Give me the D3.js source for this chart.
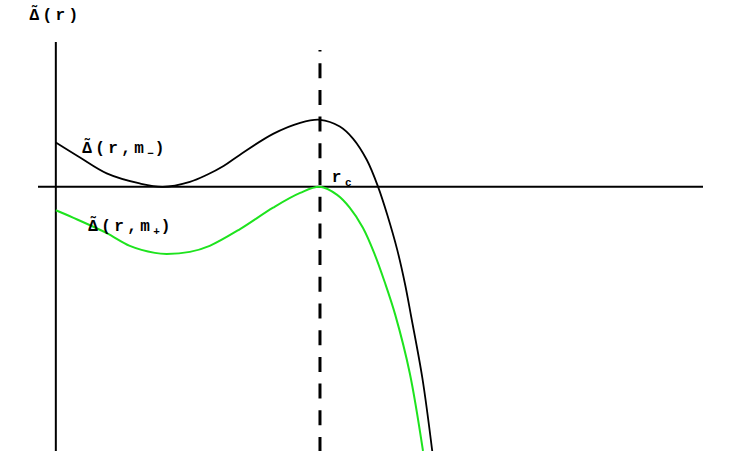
<!DOCTYPE html>
<html>
<head>
<meta charset="utf-8">
<script src="https://cdn.jsdelivr.net/npm/d3@7"></script>
<style>
  html, body { margin: 0; padding: 0; background: #fff; }
  #chart { width: 729px; height: 451px; }
</style>
</head>
<body>
<div id="chart"></div>
<script>
// values (r in units where r_c = 4, Delta in units where max of m- curve = 1)
const rMinus = [0, 0.36, 0.77, 1.27, 1.62, 2.03, 2.29, 2.54, 2.79, 3.29, 3.70, 4.00, 4.30, 4.50, 4.71, 4.88, 5.02, 5.17, 5.29, 5.38, 5.55, 5.70];
const deltaMinus = [0.66, 0.44, 0.20, 0.05, 0, 0.075, 0.18, 0.31, 0.48, 0.79, 0.955, 1.0, 0.90, 0.72, 0.40, 0, -0.42, -0.94, -1.46, -1.93, -2.85, -3.94];

const rPlus = [0, 0.26, 0.77, 1.12, 1.50, 1.68, 2.03, 2.33, 2.79, 3.29, 3.70, 4.00, 4.26, 4.45, 4.65, 4.83, 4.98, 5.14, 5.36, 5.56];
const deltaPlus = [-0.35, -0.46, -0.69, -0.88, -0.985, -1.0, -0.97, -0.88, -0.63, -0.31, -0.09, 0, -0.12, -0.31, -0.61, -1.01, -1.42, -1.91, -2.78, -3.94];

const rC = 4;
const rDomain = [-0.27, 9.8];
const deltaDomain = [-3.94, 2.16];
const dashTop = 2.04;

const labels = [
    {r: -0.40, d: 2.49, parts: [["Δ̃(r)", 0]]},
    {r: 0.40, d: 0.50, parts: [["Δ̃(r,m", 0], ["−", 1], [")", 2]]},
    {r: 0.49, d: -0.66, parts: [["Δ̃(r,m", 0], ["+", 1], [")", 2]]},
    {r: 4.18, d: 0.07, parts: [["r", 0], ["c", 1]]}
];

const width = 729, height = 451;

const svg = d3.select('#chart')
    .append('svg')
    .attr('width', width)
    .attr('height', height)
    .style('font-family', '"Liberation Mono", "DejaVu Sans Mono", monospace');

const x = d3.scaleLinear().domain(rDomain).range([38, 703]);
const y = d3.scaleLinear().domain(deltaDomain).range([451, 42]);

// axes
svg.append('line')
    .attr('x1', x(rDomain[0])).attr('x2', x(rDomain[1]))
    .attr('y1', y(0)).attr('y2', y(0))
    .attr('stroke', '#000').attr('stroke-width', 2);

svg.append('line')
    .attr('x1', x(0)).attr('x2', x(0))
    .attr('y1', y(deltaDomain[1])).attr('y2', y(deltaDomain[0]))
    .attr('stroke', '#000').attr('stroke-width', 2);

// r_c dashed line, drawn from the bottom up
svg.append('line')
    .attr('x1', x(rC)).attr('x2', x(rC))
    .attr('y1', y(deltaDomain[0]) + 1).attr('y2', y(dashTop))
    .attr('stroke', '#000').attr('stroke-width', 3)
    .attr('stroke-dasharray', '15 11.7');

const line = d3.line()
    .x(d => x(d[0]))
    .y(d => y(d[1]))
    .curve(d3.curveCatmullRom.alpha(0.5));

svg.append('path')
    .datum(d3.zip(rPlus, deltaPlus))
    .attr('d', line)
    .attr('fill', 'none')
    .attr('stroke', '#1ee31e')
    .attr('stroke-width', 2);

svg.append('path')
    .datum(d3.zip(rMinus, deltaMinus))
    .attr('d', line)
    .attr('fill', 'none')
    .attr('stroke', '#000')
    .attr('stroke-width', 1.8);

// labels
labels.forEach(l => {
    const t = svg.append('text')
        .attr('x', x(l.r))
        .attr('y', y(l.d))
        .attr('font-size', 16)
        .attr('font-weight', 'bold')
        .attr('letter-spacing', 3.4)
        .attr('fill', '#000');
    l.parts.forEach(([s, kind]) => {
        const ts = t.append('tspan').text(s);
        if (kind === 1) {
            ts.attr('font-size', 11).attr('dy', 4).attr('letter-spacing', 1);
        } else if (kind === 2) {
            ts.attr('dy', -4);
        }
    });
});
</script>
</body>
</html>
